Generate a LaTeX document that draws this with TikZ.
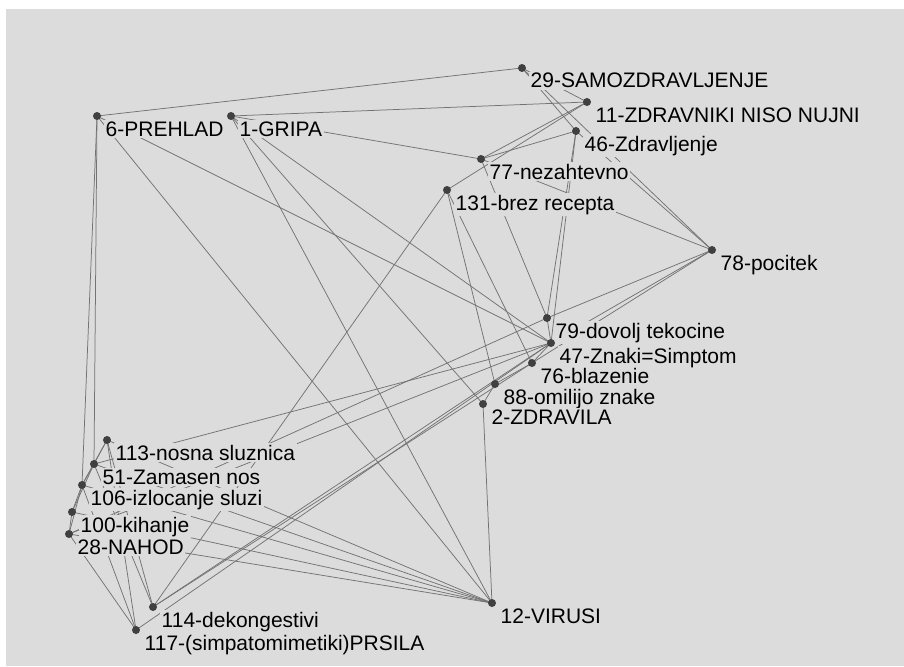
\documentclass[tikz,border=0pt]{standalone}
\usepackage{fontspec}
\setmainfont{Liberation Sans}
\definecolor{bg}{HTML}{DCDCDC}
\definecolor{edgecol}{HTML}{737373}
\definecolor{dotcol}{HTML}{404040}
\begin{document}
\begin{tikzpicture}[x=1pt,y=-1pt,
  vtx/.style={circle,fill=dotcol,inner sep=0pt,minimum size=8pt},
  lbl/.style={anchor=base west,fill=bg,inner sep=1.5pt,font=\fontsize{21}{24}\selectfont,text=black},
  edge/.style={draw=edgecol,line width=0.75pt}]
\useasboundingbox (0,0) rectangle (904,666);
\fill[white] (0,0) rectangle (904,666);
\fill[bg] (6,9) rectangle (904,666);
% vertex positions
\coordinate (v29) at (522,68);
\coordinate (v11) at (587,102);
\coordinate (v6) at (97,116);
\coordinate (v1) at (231,116);
\coordinate (v46) at (576,131);
\coordinate (v77) at (481,159);
\coordinate (v131) at (447,190);
\coordinate (v78) at (712,250);
\coordinate (v79) at (547,318);
\coordinate (v47) at (551,343);
\coordinate (v76) at (532,363);
\coordinate (v88) at (495,384);
\coordinate (v2) at (483,404);
\coordinate (v113) at (107,440);
\coordinate (v51) at (94,464);
\coordinate (v106) at (82,485);
\coordinate (v100) at (72,512);
\coordinate (v28) at (69,534);
\coordinate (v114) at (153,607);
\coordinate (v117) at (136,630);
\coordinate (v12) at (492,603);
% edges
\foreach \a/\b in {6/29,1/11,1/77,29/11,29/78,29/46,11/77,11/131,46/77,77/78,46/78,
  6/12,6/47,1/12,1/2,1/47,6/51,6/106,
  113/12,51/12,106/12,100/12,28/12,2/12,
  28/117,106/117,113/117,51/114,113/114,114/131,51/47,131/88,131/76,
  46/79,46/47,77/79,113/51,113/106,51/106,51/100,106/100,106/28,100/28,
  28/79,28/47,114/47,114/76,117/47,78/79,78/47,78/76,2/88,88/76,76/47,47/79}
  \draw[edge] (v\a) -- (v\b);
% labels, filled with the background so that they mask the edges
\foreach \v/\t in {29/29-SAMOZDRAVLJENJE,11/11-ZDRAVNIKI NISO NUJNI,6/6-PREHLAD,1/1-GRIPA,
  46/46-Zdravljenje,77/77-nezahtevno,131/131-brez recepta,78/78-pocitek,
  79/79-dovolj tekocine,47/47-Znaki=Simptom,76/76-blazenie,88/88-omilijo znake,
  2/2-ZDRAVILA,113/113-nosna sluznica,51/51-Zamasen nos,106/106-izlocanje sluzi,
  100/100-kihanje,28/28-NAHOD,114/114-dekongestivi,117/117-(simpatomimetiki)PRSILA,12/12-VIRUSI}
  \node[lbl] (l\v) at ([shift={(7,20)}]v\v) {\t};
% vertex dots
\foreach \v in {29,11,6,1,46,77,131,78,79,47,76,88,2,113,51,106,100,28,114,117,12}
  \node[vtx] (n\v) at (v\v) {};
\end{tikzpicture}
\end{document}
